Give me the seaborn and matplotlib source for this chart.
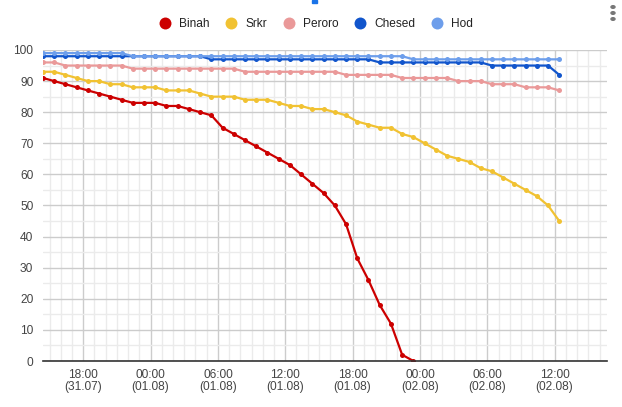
import numpy as np
import pandas as pd
import matplotlib
matplotlib.use("Agg")
import matplotlib.pyplot as plt
import matplotlib.dates as mdates
from matplotlib.lines import Line2D
from matplotlib.patches import Rectangle
from matplotlib.ticker import MultipleLocator
import seaborn as sns

# hourly readings, first one at 14:25 on 31.07
START = "2023-07-31 14:25"
N_POINTS = 47

binah = [91, 90, 89, 88, 87, 86, 85, 84, 83, 83, 83, 82, 82, 81, 80, 79,
         75, 73, 71, 69, 67, 65, 63, 60, 57, 54, 50, 44, 33, 26, 18, 12, 2, 0]
srkr = [93, 93, 92, 91, 90, 90, 89, 89, 88, 88, 88, 87, 87, 87, 86, 85,
        85, 85, 84, 84, 84, 83, 82, 82, 81, 81, 80, 79, 77, 76, 75, 75,
        73, 72, 70, 68, 66, 65, 64, 62, 61, 59, 57, 55, 53, 50, 45]
peroro = [96, 96, 95, 95, 95, 95, 95, 95, 94, 94, 94, 94, 94, 94, 94, 94,
          94, 94, 93, 93, 93, 93, 93, 93, 93, 93, 93, 92, 92, 92, 92, 92,
          91, 91, 91, 91, 91, 90, 90, 90, 89, 89, 89, 88, 88, 88, 87]
chesed = [98, 98, 98, 98, 98, 98, 98, 98, 98, 98, 98, 98, 98, 98, 98, 97,
          97, 97, 97, 97, 97, 97, 97, 97, 97, 97, 97, 97, 97, 97, 96, 96,
          96, 96, 96, 96, 96, 96, 96, 96, 95, 95, 95, 95, 95, 95, 92]
hod = [99, 99, 99, 99, 99, 99, 99, 99, 98, 98, 98, 98, 98, 98, 98, 98,
       98, 98, 98, 98, 98, 98, 98, 98, 98, 98, 98, 98, 98, 98, 98, 98,
       98, 97, 97, 97, 97, 97, 97, 97, 97, 97, 97, 97, 97, 97, 97]

names = ["Binah", "Srkr", "Peroro", "Chesed", "Hod"]
colors = ["#cc0000", "#f1c232", "#ea9999", "#1155cc", "#6d9eeb"]

times = pd.date_range(START, periods=N_POINTS, freq="h")
frames = []
for name, vals in zip(names, [binah, srkr, peroro, chesed, hod]):
    frames.append(pd.DataFrame({"time": times[:len(vals)], "value": vals, "series": name}))
df = pd.concat(frames, ignore_index=True)

sns.set_style("white")
plt.rcParams["font.family"] = ["Liberation Sans", "DejaVu Sans"]

fig = plt.figure(figsize=(6.22, 4.07), dpi=100)
ax = fig.add_axes([43 / 622, 1 - 361 / 407, (607 - 43) / 622, (361 - 50) / 407])

sns.lineplot(data=df, x="time", y="value", hue="series", hue_order=names,
             palette=colors, marker="o", markersize=3.6, markeredgewidth=0,
             linewidth=1.6, legend=False, ax=ax)

ax.set_xlim(pd.Timestamp("2023-07-31 14:25"), pd.Timestamp("2023-08-02 16:40"))
ax.set_ylim(0, 100)

ax.xaxis.set_major_locator(mdates.HourLocator(byhour=[0, 6, 12, 18]))
ax.xaxis.set_minor_locator(mdates.HourLocator())
ax.xaxis.set_major_formatter(mdates.DateFormatter("%H:%M\n(%d.%m)"))
ax.yaxis.set_major_locator(MultipleLocator(10))
ax.yaxis.set_minor_locator(MultipleLocator(5))

ax.grid(which="major", color="#cccccc", linewidth=1)
ax.grid(which="minor", color="#ebebeb", linewidth=1)
ax.set_axisbelow(True)
for s in ["top", "right", "left"]:
    ax.spines[s].set_visible(False)
ax.spines["bottom"].set_color("#333333")
ax.spines["bottom"].set_linewidth(1.2)

ax.tick_params(which="both", length=0)
ax.tick_params(axis="y", pad=7, labelsize=8.6, labelcolor="#444444")
ax.tick_params(axis="x", pad=6, labelsize=8.6, labelcolor="#444444")
for lab in ax.get_xticklabels():
    lab.set_linespacing(1.0)
ax.set_xlabel("")
ax.set_ylabel("")

handles = [Line2D([], [], linestyle="none", marker="o", markersize=8.6,
                  markerfacecolor=c, markeredgewidth=0) for c in colors]
fig.legend(handles, names, loc="center", bbox_to_anchor=(316 / 622, 1 - 24 / 407),
           ncol=5, frameon=False, fontsize=8.6, handlelength=1.0,
           handletextpad=0.67, columnspacing=1.33, labelcolor="#222222")

# small bits of the page UI
fig.patches.append(Rectangle((312 / 622, 1 - 3 / 407), 5 / 622, 3 / 407,
                             transform=fig.transFigure, color="#1a73e8"))
for yy in [7, 13, 19]:
    fig.patches.append(matplotlib.patches.Circle((613 / 622, 1 - yy / 407), 2 / 622,
                                                 transform=fig.transFigure, color="#777777"))

fig.savefig("out.png", dpi=100)
